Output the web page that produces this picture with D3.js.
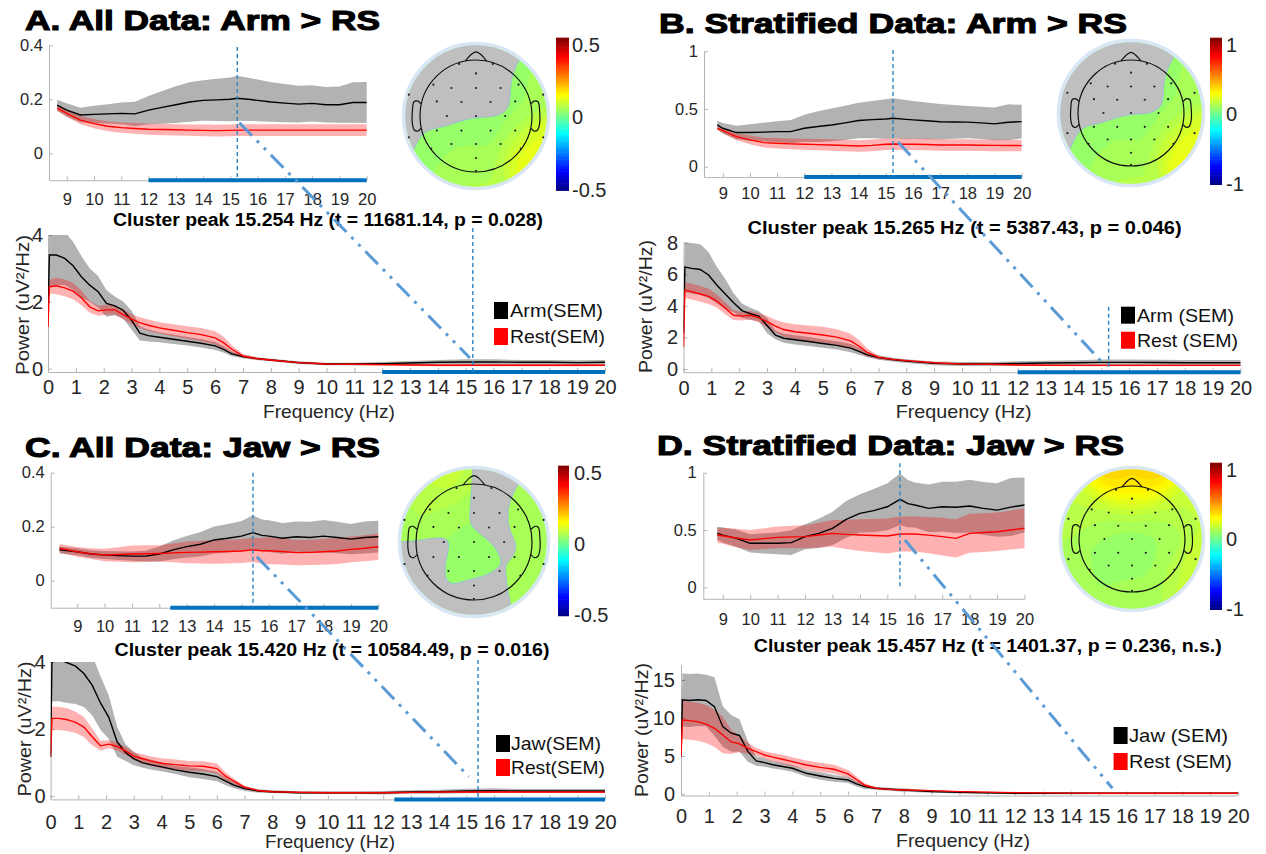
<!DOCTYPE html>
<html>
<head>
<meta charset="utf-8">
<script src="https://cdn.jsdelivr.net/npm/d3@7"></script>
<style>
  body { margin: 0; background: #fff; }
  svg { display: block; }
  text { font-family: "Liberation Sans", Arial, sans-serif; }
</style>
</head>
<body>
<svg id="fig" width="1266" height="854"></svg>
<script>
// ---------------- spectra: full band 0-20 Hz ----------------
const specFreq = [0, 0.05, 0.3, 0.6, 0.9, 1.2, 1.5, 1.8, 2.1, 2.4, 2.7, 3.0, 3.3, 3.6, 4.0, 4.5, 5.0, 5.5, 6.0, 6.3, 6.6, 7.0, 7.5, 8, 9, 10, 11, 12, 13, 14, 15, 16, 17, 18, 19, 20];

const specArmMeanA = [1.6, 3.4, 3.4, 3.3, 3.08, 2.75, 2.5, 2.3, 1.95, 1.88, 1.75, 1.45, 1.06, 0.99, 0.94, 0.88, 0.82, 0.76, 0.68, 0.58, 0.44, 0.36, 0.3, 0.26, 0.18, 0.14, 0.14, 0.15, 0.17, 0.19, 0.2, 0.2, 0.19, 0.19, 0.18, 0.19];
const specArmSemA  = [0.25, 0.95, 0.9, 0.8, 0.72, 0.62, 0.5, 0.47, 0.4, 0.28, 0.26, 0.28, 0.22, 0.18, 0.15, 0.14, 0.13, 0.13, 0.12, 0.1, 0.07, 0.05, 0.04, 0.04, 0.04, 0.04, 0.04, 0.05, 0.06, 0.07, 0.08, 0.08, 0.07, 0.07, 0.07, 0.07];
const specRestMeanA = [1.25, 2.45, 2.48, 2.42, 2.32, 2.12, 1.85, 1.73, 1.76, 1.76, 1.62, 1.48, 1.38, 1.3, 1.22, 1.15, 1.08, 1.02, 0.92, 0.78, 0.58, 0.38, 0.3, 0.26, 0.18, 0.14, 0.13, 0.12, 0.11, 0.1, 0.1, 0.1, 0.1, 0.1, 0.1, 0.1];
const specRestSemA  = [0.08, 0.2, 0.25, 0.25, 0.24, 0.22, 0.18, 0.15, 0.15, 0.14, 0.14, 0.15, 0.16, 0.17, 0.17, 0.18, 0.19, 0.2, 0.2, 0.18, 0.12, 0.06, 0.04, 0.03, 0.03, 0.03, 0.03, 0.03, 0.03, 0.03, 0.03, 0.03, 0.03, 0.03, 0.03, 0.03];

const specArmMeanB = [2.3, 6.45, 6.37, 6.3, 5.95, 5.3, 4.75, 4.2, 3.7, 3.5, 3.35, 2.75, 2.15, 1.95, 1.85, 1.74, 1.62, 1.5, 1.32, 1.12, 0.9, 0.72, 0.6, 0.5, 0.36, 0.32, 0.32, 0.35, 0.38, 0.4, 0.42, 0.42, 0.41, 0.4, 0.4, 0.4];
const specArmSemB  = [0.3, 1.6, 1.6, 1.6, 1.45, 1.15, 0.95, 0.6, 0.45, 0.38, 0.33, 0.48, 0.27, 0.28, 0.29, 0.28, 0.27, 0.26, 0.26, 0.22, 0.16, 0.14, 0.12, 0.12, 0.12, 0.12, 0.13, 0.14, 0.15, 0.16, 0.18, 0.18, 0.17, 0.17, 0.17, 0.17];
const specRestMeanB = [1.4, 5.0, 4.9, 4.75, 4.6, 4.3, 3.85, 3.4, 3.35, 3.4, 3.25, 3.0, 2.72, 2.5, 2.36, 2.26, 2.15, 2.02, 1.78, 1.45, 1.05, 0.74, 0.61, 0.53, 0.4, 0.32, 0.3, 0.26, 0.24, 0.23, 0.23, 0.23, 0.23, 0.23, 0.23, 0.23];
const specRestSemB  = [0.2, 0.5, 0.5, 0.5, 0.48, 0.42, 0.38, 0.3, 0.28, 0.28, 0.3, 0.35, 0.4, 0.45, 0.48, 0.5, 0.52, 0.5, 0.45, 0.38, 0.25, 0.12, 0.08, 0.06, 0.05, 0.05, 0.05, 0.05, 0.05, 0.05, 0.05, 0.05, 0.05, 0.05, 0.05, 0.05];

const specJawMeanC = [1.17, 4.1, 4.08, 3.98, 3.88, 3.66, 3.31, 2.78, 2.35, 1.62, 1.3, 1.12, 1.0, 0.94, 0.87, 0.78, 0.71, 0.66, 0.58, 0.45, 0.33, 0.22, 0.15, 0.13, 0.1, 0.1, 0.1, 0.1, 0.12, 0.13, 0.15, 0.16, 0.15, 0.15, 0.15, 0.15];
const specJawSemC  = [0.2, 1.28, 1.25, 1.2, 1.13, 1.0, 0.9, 0.8, 0.65, 0.45, 0.25, 0.2, 0.15, 0.15, 0.13, 0.12, 0.15, 0.15, 0.14, 0.12, 0.1, 0.07, 0.05, 0.04, 0.04, 0.04, 0.04, 0.05, 0.05, 0.06, 0.07, 0.07, 0.06, 0.06, 0.06, 0.06];
const specRestMeanC = [1.17, 2.32, 2.32, 2.28, 2.2, 2.06, 1.77, 1.5, 1.55, 1.48, 1.35, 1.19, 1.12, 1.05, 0.98, 0.94, 0.9, 0.89, 0.82, 0.6, 0.45, 0.26, 0.16, 0.13, 0.11, 0.1, 0.1, 0.1, 0.11, 0.12, 0.12, 0.12, 0.12, 0.12, 0.12, 0.12];
const specRestSemC  = [0.1, 0.35, 0.35, 0.34, 0.32, 0.3, 0.25, 0.15, 0.12, 0.12, 0.12, 0.12, 0.13, 0.14, 0.15, 0.15, 0.15, 0.15, 0.15, 0.12, 0.08, 0.05, 0.03, 0.03, 0.03, 0.03, 0.03, 0.03, 0.03, 0.03, 0.03, 0.03, 0.03, 0.03, 0.03, 0.03];

const specJawMeanD = [5.0, 12.4, 12.3, 12.4, 12.3, 11.5, 8.86, 8.0, 7.7, 5.6, 4.35, 4.12, 3.85, 3.65, 3.38, 2.72, 2.37, 2.06, 1.84, 1.32, 0.96, 0.75, 0.62, 0.53, 0.31, 0.22, 0.15, 0.09, 0.09, 0.09, 0.09, 0.09, 0.09, 0.09, 0.09, 0.09];
const specJawSemD  = [0.3, 3.5, 3.5, 3.45, 3.4, 3.85, 2.65, 2.4, 2.15, 1.35, 0.63, 0.55, 0.5, 0.45, 0.44, 0.45, 0.5, 0.45, 0.4, 0.35, 0.3, 0.18, 0.2, 0.22, 0.15, 0.15, 0.12, 0.12, 0.12, 0.12, 0.12, 0.12, 0.12, 0.12, 0.12, 0.12];
const specRestMeanD = [4.9, 9.74, 9.65, 9.52, 9.2, 8.64, 7.76, 6.85, 6.6, 6.0, 5.57, 5.13, 4.85, 4.6, 4.25, 3.82, 3.5, 3.25, 2.65, 1.9, 1.15, 0.75, 0.6, 0.53, 0.44, 0.31, 0.24, 0.18, 0.14, 0.11, 0.09, 0.09, 0.09, 0.09, 0.09, 0.09];
const specRestSemD  = [0.3, 2.5, 2.5, 2.5, 2.5, 2.45, 2.4, 1.6, 1.1, 0.7, 0.5, 0.5, 0.55, 0.6, 0.6, 0.6, 0.6, 0.6, 0.5, 0.4, 0.25, 0.12, 0.1, 0.1, 0.08, 0.06, 0.05, 0.05, 0.05, 0.05, 0.05, 0.05, 0.05, 0.05, 0.05, 0.05];

// ---------------- spectra: zoomed band around the cluster ----------------
const zoomFreqA = [8.65, 9, 9.5, 10, 10.5, 11, 11.5, 12, 12.5, 13, 13.5, 14, 14.5, 15, 15.25, 15.75, 16, 16.5, 17, 17.5, 18, 18.5, 19, 19.5, 20];
const zoomFreqB = [8.8, 9, 9.5, 10, 10.5, 11, 11.5, 12, 12.5, 13, 13.5, 14, 14.5, 15, 15.27, 15.75, 16, 16.5, 17, 17.5, 18, 18.5, 19, 19.5, 20];
const zoomFreqC = [8.35, 9, 9.5, 10, 10.5, 11, 11.5, 12, 12.5, 13, 13.5, 14, 14.5, 15, 15.42, 15.75, 16, 16.5, 17, 17.5, 18, 18.5, 19, 19.5, 20];
const zoomFreqD = [8.8, 9, 9.5, 10, 10.5, 11, 11.5, 12, 12.5, 13, 13.5, 14, 14.5, 15, 15.46, 15.75, 16, 16.5, 17, 17.5, 18, 18.5, 19, 19.5, 20];

const zoomArmMeanA = [0.178, 0.16, 0.142, 0.144, 0.146, 0.148, 0.146, 0.16, 0.17, 0.18, 0.19, 0.196, 0.198, 0.2, 0.204, 0.199, 0.196, 0.19, 0.186, 0.182, 0.185, 0.18, 0.18, 0.188, 0.188];
const zoomArmSemA  = [0.02, 0.025, 0.027, 0.032, 0.036, 0.04, 0.045, 0.052, 0.061, 0.068, 0.073, 0.075, 0.078, 0.081, 0.083, 0.079, 0.077, 0.073, 0.071, 0.068, 0.067, 0.066, 0.067, 0.075, 0.076];
const zoomRestMeanA = [0.167, 0.148, 0.123, 0.11, 0.1, 0.095, 0.092, 0.089, 0.088, 0.087, 0.086, 0.085, 0.084, 0.085, 0.086, 0.086, 0.086, 0.086, 0.086, 0.086, 0.086, 0.086, 0.086, 0.086, 0.086];
const zoomRestSemA  = [0.01, 0.012, 0.015, 0.017, 0.018, 0.019, 0.02, 0.02, 0.021, 0.021, 0.021, 0.022, 0.022, 0.022, 0.022, 0.022, 0.022, 0.022, 0.022, 0.022, 0.022, 0.022, 0.022, 0.022, 0.022];

const zoomArmMeanB = [0.362, 0.333, 0.296, 0.296, 0.3, 0.304, 0.304, 0.333, 0.348, 0.362, 0.38, 0.4, 0.408, 0.414, 0.42, 0.41, 0.406, 0.398, 0.39, 0.388, 0.386, 0.38, 0.371, 0.385, 0.391];
const zoomArmSemB  = [0.037, 0.045, 0.058, 0.072, 0.082, 0.09, 0.1, 0.117, 0.133, 0.142, 0.149, 0.154, 0.161, 0.171, 0.174, 0.169, 0.164, 0.159, 0.154, 0.146, 0.139, 0.14, 0.142, 0.156, 0.145];
const zoomRestMeanB = [0.333, 0.313, 0.26, 0.232, 0.209, 0.203, 0.198, 0.194, 0.191, 0.188, 0.184, 0.18, 0.185, 0.195, 0.197, 0.195, 0.194, 0.192, 0.188, 0.188, 0.188, 0.186, 0.185, 0.184, 0.183];
const zoomRestSemB  = [0.015, 0.02, 0.03, 0.038, 0.042, 0.045, 0.047, 0.048, 0.049, 0.05, 0.05, 0.05, 0.05, 0.05, 0.05, 0.05, 0.05, 0.05, 0.05, 0.05, 0.05, 0.05, 0.05, 0.05, 0.05];

const zoomJawMeanC = [0.114, 0.107, 0.099, 0.095, 0.093, 0.091, 0.091, 0.099, 0.114, 0.126, 0.135, 0.151, 0.157, 0.165, 0.178, 0.168, 0.165, 0.157, 0.163, 0.16, 0.165, 0.16, 0.154, 0.16, 0.163];
const zoomJawSemC  = [0.013, 0.013, 0.014, 0.015, 0.016, 0.017, 0.02, 0.028, 0.035, 0.04, 0.045, 0.05, 0.053, 0.056, 0.064, 0.059, 0.059, 0.057, 0.056, 0.058, 0.06, 0.058, 0.056, 0.059, 0.059];
const zoomRestMeanC = [0.12, 0.107, 0.1, 0.095, 0.097, 0.099, 0.1, 0.101, 0.103, 0.105, 0.106, 0.107, 0.108, 0.11, 0.114, 0.111, 0.111, 0.108, 0.104, 0.105, 0.107, 0.11, 0.116, 0.12, 0.126];
const zoomRestSemC  = [0.016, 0.018, 0.02, 0.023, 0.027, 0.031, 0.031, 0.03, 0.035, 0.04, 0.042, 0.044, 0.044, 0.044, 0.045, 0.047, 0.05, 0.048, 0.047, 0.047, 0.048, 0.048, 0.048, 0.048, 0.049];

const zoomJawMeanD = [0.471, 0.456, 0.427, 0.384, 0.384, 0.384, 0.39, 0.442, 0.471, 0.515, 0.593, 0.645, 0.669, 0.703, 0.767, 0.73, 0.718, 0.689, 0.703, 0.698, 0.709, 0.689, 0.674, 0.7, 0.718];
const zoomJawSemD  = [0.058, 0.065, 0.075, 0.08, 0.088, 0.095, 0.108, 0.109, 0.128, 0.145, 0.16, 0.167, 0.188, 0.204, 0.226, 0.206, 0.197, 0.208, 0.218, 0.223, 0.23, 0.23, 0.233, 0.253, 0.24];
const zoomRestMeanD = [0.456, 0.45, 0.43, 0.413, 0.425, 0.436, 0.44, 0.442, 0.456, 0.471, 0.462, 0.456, 0.452, 0.448, 0.465, 0.465, 0.465, 0.455, 0.442, 0.427, 0.471, 0.478, 0.485, 0.5, 0.515];
const zoomRestSemD  = [0.066, 0.07, 0.08, 0.087, 0.09, 0.095, 0.098, 0.1, 0.108, 0.116, 0.127, 0.138, 0.145, 0.152, 0.152, 0.152, 0.152, 0.158, 0.164, 0.167, 0.17, 0.169, 0.168, 0.171, 0.174];

// ---------------- cluster statistics ----------------
const peakFreq     = [15.254, 15.265, 15.420, 15.457];
const clusterStart = [12, 12, 12.4, null];
const clusterText = [
  "Cluster peak 15.254 Hz (t = 11681.14, p = 0.028)",
  "Cluster peak 15.265 Hz (t = 5387.43, p = 0.046)",
  "Cluster peak 15.420 Hz (t = 10584.49, p = 0.016)",
  "Cluster peak 15.457 Hz (t = 1401.37, p = 0.236, n.s.)"
];
const panelTitles = ["A. All Data: Arm > RS", "B. Stratified Data: Arm > RS", "C. All Data: Jaw > RS", "D. Stratified Data: Jaw > RS"];
const legendTexts = [["Arm(SEM)", "Rest(SEM)"], ["Arm (SEM)", "Rest (SEM)"], ["Jaw(SEM)", "Rest(SEM)"], ["Jaw (SEM)", "Rest (SEM)"]];

// ---------------- tick labels ----------------
const zoomXTicks = [9, 10, 11, 12, 13, 14, 15, 16, 17, 18, 19, 20];
const specXTicks = d3.range(0, 21);
const zoomYTicks = [[0, 0.2, 0.4], [0, 0.5, 1], [0, 0.2, 0.4], [0, 0.5, 1]];
const specYTicks = [[0, 2, 4], [0, 2, 4, 6, 8], [0, 2, 4], [0, 5, 10, 15]];
const cbarLimits = [0.5, 1, 0.5, 1];

// ---------------- scalp maps: 10-20 montage (unit head radius) ----------------
const montage = [
  ["Fp1", -0.3, 0.93], ["Fp2", 0.3, 0.93], ["AFz", 0, 0.76],
  ["F7", -0.76, 0.56], ["F3", -0.44, 0.5], ["Fz", 0, 0.5], ["F4", 0.44, 0.5], ["F8", 0.76, 0.56],
  ["FT9", -1.2, 0.38], ["FT10", 1.2, 0.38],
  ["FC5", -0.7, 0.26], ["FC1", -0.26, 0.25], ["FC2", 0.26, 0.25], ["FC6", 0.7, 0.26],
  ["C3", -0.52, 0], ["Cz", 0, 0], ["C4", 0.52, 0],
  ["CP5", -0.7, -0.26], ["CP1", -0.26, -0.26], ["CP2", 0.26, -0.26], ["CP6", 0.7, -0.26],
  ["TP9", -1.2, -0.38], ["TP10", 1.2, -0.38],
  ["P7", -0.8, -0.58], ["P3", -0.44, -0.5], ["Pz", 0, -0.5], ["P4", 0.44, -0.5], ["P8", 0.8, -0.58],
  ["POz", 0, -0.75], ["Oz", 0, -0.98]
];
//             Fp1  Fp2  AFz  F7   F3   Fz   F4   F8   FT9  FT10 FC5  FC1  FC2  FC6  C3   Cz   C4   CP5  CP1  CP2  CP6  TP9  TP10 P7   P3   Pz   P4   P8   POz  Oz
const topoA = [0.02,0.02,0.02,0.02,0.02,0.02,0.02,0.03,0.02,0.04,0.02,0.02,0.02,0.03,0.02,0.02,0.03,0.03,0.03,0.0, 0.04,0.03,0.1, 0.03,0.03,0.03,0.04,0.13,0.04,0.05];
const maskA = [0,   0,   0,   0,   0,   0,   0,   1,   0,   1,   0,   0,   0,   0.85,0,  0.45,0.25,0.5, 1,   1,   1,   0.1, 1,   1,   1,   1,   1,   1,   1,   1];
const topoB = [0.05,0.05,0.05,0.05,0.05,0.05,0.05,0.06,0.05,0.08,0.05,0.05,0.05,0.06,0.05,0.05,0.06,0.06,0.06,0.01,0.08,0.06,0.2, 0.06,0.06,0.06,0.08,0.26,0.08,0.1];
const maskB = [0,   0,   0,   0,   0,   0,   0,   1,   0,   1,   0,   0,   0,   0.85,0,  0.45,0.25,0.5, 1,   1,   1,   0.1, 1,   1,   1,   1,   1,   1,   1,   1];
const topoC = [0.08,0.03,0.04,0.06,0.04,0.03,0.03,0.04,0.04,0.04,0.04,0.03,0.03,0.04,0.03,0.02,0.03,0.03,0.02,0.02,0.03,0.03,0.04,0.03,0.02,0.02,0.03,0.05,0.03,0.04];
const maskC = [1,   0,   0.35,1,   1,   0.55,0,   1,   1,   1,   1,   0.35,0,   1,   0,   1,   0,   0,   1,   1,   0.5, 0,   1,   0,   0.85,1,   0,   1,   0,   0];
const topoD = [0.36,0.36,0.24,0.14,0.1, 0.12,0.1, 0.14,0.12,0.13,0.08,0.06,0.06,0.08,0.06,0.03,0.06,0.06,0.03,0.04,0.07,0.08,0.17,0.07,0.05,0.05,0.06,0.14,0.06,0.09];

// ---------------- layout ----------------
const layout = [
  { title: { x: 25, y: 30, len: 355 },
    zoom: { f: [8.35, 20], x: [49, 366.7], v: [-0.1, 0.4], y: [180.3, 45.3], xPad: 12.7, yPad: 6, vline: [47, 180.3] },
    spec: { x: [48, 605], v: [-0.1, 4], y: [372, 235], xPad: 7.4, yPad: 5, vline: [228, 372] },
    cluster: { x: 328, y: 226, len: 430 },
    legend: { x: 494, y: [302, 328], tx: 510, lens: [93, 95] },
    xlab: { x: 329, y: 418.3, len: 132 }, ylab: { x: 28.6, y: 305, len: 140 },
    link: { from: [15.33, 0.113], to: [15.15, 0.32] },
    topo: { cx: 476, cy: 116, discR: 71, headR: 56, cbx: 556, cby: [40, 192.7], cbw: 13, lx: 572 } },
  { title: { x: 659, y: 33, len: 468 },
    zoom: { f: [8.31, 20], x: [704, 1021.7], v: [-0.09, 1], y: [177.1, 51.3], xPad: 10.5, yPad: 6, vline: [50, 177] },
    spec: { x: [683.5, 1240.5], v: [-0.2, 8], y: [372.2, 242.6], xPad: 8.4, yPad: 5.5, vline: [306.7, 372] },
    cluster: { x: 964.6, y: 234.3, len: 434 },
    legend: { x: 1121, y: [306.7, 331.7], tx: 1137, lens: [97, 101] },
    xlab: { x: 963.7, y: 418.3, len: 136 }, ylab: { x: 651.6, y: 306.5, len: 133 },
    link: { from: [15.45, 0.214], to: [15.12, 0.25] },
    topo: { cx: 1131, cy: 113, discR: 71, headR: 53, cbx: 1210, cby: [40, 186.7], cbw: 12, lx: 1226 } },
  { title: { x: 25, y: 457.3, len: 355 },
    zoom: { f: [8.03, 20], x: [50.7, 378.3], v: [-0.1, 0.4], y: [607.7, 472.7], xPad: 13, yPad: 6, vline: [472.7, 607.7] },
    spec: { x: [50.6, 605], v: [-0.1, 4], y: [799.4, 662.1], xPad: 15.6, yPad: 5, vline: [660, 799.4] },
    cluster: { x: 332, y: 656, len: 435 },
    legend: { x: 496, y: [735, 759], tx: 511, lens: [90, 94] },
    xlab: { x: 330, y: 848.3, len: 130 }, ylab: { x: 30.6, y: 729, len: 135 },
    link: { from: [15.56, 0.089], to: [15.09, 0.576] },
    topo: { cx: 474, cy: 542, discR: 73, headR: 58, cbx: 558, cby: [468, 618], cbw: 11, lx: 574 } },
  { title: { x: 657, y: 455, len: 467 },
    zoom: { f: [8.29, 20], x: [703.3, 1024.5], v: [-0.1, 1], y: [598.8, 472.7], xPad: 14.2, yPad: 6.5, vline: [463.3, 588.3] },
    spec: { x: [681, 1238], v: [-0.2, 17], y: [795.5, 664.8], xPad: 12.9, yPad: 6, vline: null },
    cluster: { x: 987.8, y: 651.5, len: 468 },
    legend: { x: 1113.6, y: [727, 753], tx: 1129, lens: [99, 103] },
    xlab: { x: 963, y: 846.6, len: 134 }, ylab: { x: 647.6, y: 730, len: 134 },
    link: { from: [15.64, 0.413], to: [15.49, 0.75] },
    topo: { cx: 1132, cy: 539, discR: 70, headR: 53, cbx: 1210, cby: [465, 611.7], cbw: 12, lx: 1226 } }
];

const panels = [
  { zoomF: zoomFreqA, zoomTask: [zoomArmMeanA, zoomArmSemA], zoomRest: [zoomRestMeanA, zoomRestSemA],
    specTask: [specArmMeanA, specArmSemA], specRest: [specRestMeanA, specRestSemA], topo: topoA, mask: maskA },
  { zoomF: zoomFreqB, zoomTask: [zoomArmMeanB, zoomArmSemB], zoomRest: [zoomRestMeanB, zoomRestSemB],
    specTask: [specArmMeanB, specArmSemB], specRest: [specRestMeanB, specRestSemB], topo: topoB, mask: maskB },
  { zoomF: zoomFreqC, zoomTask: [zoomJawMeanC, zoomJawSemC], zoomRest: [zoomRestMeanC, zoomRestSemC],
    specTask: [specJawMeanC, specJawSemC], specRest: [specRestMeanC, specRestSemC], topo: topoC, mask: maskC },
  { zoomF: zoomFreqD, zoomTask: [zoomJawMeanD, zoomJawSemD], zoomRest: [zoomRestMeanD, zoomRestSemD],
    specTask: [specJawMeanD, specJawSemD], specRest: [specRestMeanD, specRestSemD], topo: topoD, mask: null }
];

// ---------------- helpers ----------------
const svg = d3.select("#fig");
svg.append("rect").attr("width", 1266).attr("height", 854).attr("fill", "#fff");

const AXIS_COLOR = "#b4b4b4";
const LABEL_COLOR = "#262626";
const BLUE = "#0072bd";
const LINK_BLUE = "#5b9bd5";

// MATLAB-style jet colormap
function jet(t) {
  t = Math.max(0, Math.min(1, t));
  const c = v => Math.round(255 * Math.max(0, Math.min(1, v)));
  return `rgb(${c(1.5 - Math.abs(4 * t - 3))},${c(1.5 - Math.abs(4 * t - 2))},${c(1.5 - Math.abs(4 * t - 1))})`;
}

let clipCount = 0;
function styleAxis(g, fontSize) {
  g.select(".domain").attr("stroke", AXIS_COLOR).attr("stroke-width", 1);
  g.selectAll(".tick line").attr("stroke", AXIS_COLOR);
  g.selectAll(".tick text").attr("fill", LABEL_COLOR).attr("font-size", fontSize)
    .attr("font-family", '"Liberation Sans", Arial, sans-serif');
}

// one spectrum plot: SEM bands, means, axes, cluster bar and peak marker
function drawSpectrum(freq, task, rest, box, xTicks, yTicks, fontSize, peak, cStart) {
  const x = d3.scaleLinear().domain(box.f).range(box.x);
  const y = d3.scaleLinear().domain(box.v).range(box.y);
  const g = svg.append("g");

  const xa = g.append("g").attr("transform", `translate(0,${box.y[0]})`)
    .call(d3.axisBottom(x).tickValues(xTicks).tickSizeInner(-4).tickSizeOuter(0).tickPadding(box.xPad).tickFormat(d => d));
  styleAxis(xa, fontSize);
  const ya = g.append("g").attr("transform", `translate(${box.x[0]},0)`)
    .call(d3.axisLeft(y).tickValues(yTicks).tickSizeInner(-4).tickSizeOuter(0).tickPadding(box.yPad).tickFormat(d => d));
  styleAxis(ya, fontSize);

  const id = "plotclip" + (clipCount++);
  svg.append("clipPath").attr("id", id).append("rect")
    .attr("x", box.x[0]).attr("y", box.y[1]).attr("width", box.x[1] - box.x[0] + 1).attr("height", box.y[0] - box.y[1]);
  const body = g.append("g").attr("clip-path", `url(#${id})`);

  const rows = s => freq.map((f, i) => ({ f, m: s[0][i], s: s[1][i] }));
  const band = d3.area().x(d => x(d.f)).y0(d => y(d.m - d.s)).y1(d => y(d.m + d.s));
  const line = d3.line().x(d => x(d.f)).y(d => y(d.m));

  body.append("path").datum(rows(task)).attr("d", band).attr("fill", "#000").attr("fill-opacity", 0.3);
  body.append("path").datum(rows(rest)).attr("d", band).attr("fill", "#ff0000").attr("fill-opacity", 0.3);
  body.append("path").datum(rows(task)).attr("d", line).attr("fill", "none").attr("stroke", "#000").attr("stroke-width", 1.4);
  body.append("path").datum(rows(rest)).attr("d", line).attr("fill", "none").attr("stroke", "#ff0000").attr("stroke-width", 1.4);

  if (cStart !== null) {
    g.append("line").attr("x1", x(cStart)).attr("x2", x(20)).attr("y1", box.y[0]).attr("y2", box.y[0])
      .attr("stroke", BLUE).attr("stroke-width", 4);
  }
  if (box.vline) {
    g.append("line").attr("x1", x(peak)).attr("x2", x(peak)).attr("y1", box.vline[0]).attr("y2", box.vline[1])
      .attr("stroke", "#2a86c8").attr("stroke-width", 1.4).attr("stroke-dasharray", "4,3");
  }
  return { x, y };
}

// scalp map: smoothed electrode values, significance mask, head outline, colour bar
function drawTopo(vals, mask, t, lim, key) {
  const N = 110, R = t.discR / t.headR, sig = 0.27;
  const grid = new Float64Array(N * N);
  const mgrid = mask ? new Float64Array(N * N) : null;
  for (let j = 0; j < N; j++) {
    for (let i = 0; i < N; i++) {
      const px = -R + (i + 0.5) / N * 2 * R, py = R - (j + 0.5) / N * 2 * R;
      let sw = 0, s = 0, sm = 0;
      montage.forEach((e, k) => {
        const d2 = (px - e[1]) ** 2 + (py - e[2]) ** 2;
        const w = Math.exp(-d2 / (2 * sig * sig));
        sw += w; s += w * vals[k]; if (mask) sm += w * mask[k];
      });
      grid[j * N + i] = s / sw;
      if (mask) mgrid[j * N + i] = 1 - sm / sw;
    }
  }
  const proj = d3.geoTransform({
    point(px, py) { this.stream.point(t.cx + (px / N * 2 * R - R) * t.headR, t.cy + (py / N * 2 * R - R) * t.headR); }
  });
  const path = d3.geoPath(proj);
  const clipId = "topoclip" + key;
  svg.append("clipPath").attr("id", clipId).append("circle").attr("cx", t.cx).attr("cy", t.cy).attr("r", t.discR);

  const g = svg.append("g");
  const body = g.append("g").attr("clip-path", `url(#${clipId})`);
  const step = lim / 32;
  const levels = d3.range(-lim, lim, step);
  const color = v => jet((v + step / 2 + lim) / (2 * lim));
  const bands = d3.contours().size([N, N]).thresholds(levels)(grid);
  body.selectAll("path.lvl").data(bands).join("path").attr("class", "lvl")
    .attr("d", path).attr("fill", d => color(d.value)).attr("stroke", d => color(d.value)).attr("stroke-width", 0.6);
  if (mask) {
    const gray = d3.contours().size([N, N]).thresholds([0.5])(mgrid)[0];
    body.append("path").datum(gray).attr("d", path).attr("fill", "#bfbfbf")
      .attr("stroke", "#8fbde3").attr("stroke-width", 0.8);
  }
  g.append("circle").attr("cx", t.cx).attr("cy", t.cy).attr("r", t.discR + 1.5)
    .attr("fill", "none").attr("stroke", "#d9e7f5").attr("stroke-width", 3.5);

  // head, nose and ears
  const hx = v => t.cx + v * t.headR, hy = v => t.cy - v * t.headR;
  const outline = d3.line().x(d => hx(d[0])).y(d => hy(d[1])).curve(d3.curveCatmullRom);
  g.append("circle").attr("cx", t.cx).attr("cy", t.cy).attr("r", t.headR)
    .attr("fill", "none").attr("stroke", "#111").attr("stroke-width", 1.2);
  g.append("path").attr("d", outline([[-0.19, 0.982], [-0.07, 1.11], [0, 1.145], [0.07, 1.11], [0.19, 0.982]]))
    .attr("fill", "none").attr("stroke", "#111").attr("stroke-width", 1.2);
  const ear = [[0.985, 0.22], [1.05, 0.27], [1.11, 0.25], [1.135, 0.1], [1.135, -0.14], [1.1, -0.25], [1.04, -0.27], [0.985, -0.22]];
  [1, -1].forEach(sgn => {
    g.append("path").attr("d", outline(ear.map(p => [sgn * p[0], p[1]])))
      .attr("fill", "none").attr("stroke", "#111").attr("stroke-width", 1.2);
  });
  g.selectAll("circle.el").data(montage).join("circle").attr("class", "el")
    .attr("cx", d => hx(d[1])).attr("cy", d => hy(d[2])).attr("r", 1.1).attr("fill", "#222");

  // colour bar
  const nSteps = 64;
  const cb = d3.scaleBand().domain(d3.range(nSteps)).range([t.cby[1], t.cby[0]]);
  svg.append("g").selectAll("rect").data(d3.range(nSteps)).join("rect")
    .attr("x", t.cbx).attr("width", t.cbw)
    .attr("y", i => cb(i) - cb.bandwidth()).attr("height", cb.bandwidth() + 0.6)
    .attr("fill", i => jet((i + 0.5) / nSteps));
  const lab = d3.scaleLinear().domain([-lim, lim]).range([t.cby[1] - 3, t.cby[0] + 5]);
  svg.append("g").selectAll("text").data([lim, 0, -lim]).join("text")
    .attr("x", t.lx).attr("y", d => lab(d) + 7).attr("font-size", 20).attr("fill", LABEL_COLOR)
    .text(d => d);
}

// ---------------- draw the four panels ----------------
panels.forEach((p, k) => {
  const L = layout[k];

  svg.append("text").attr("x", L.title.x).attr("y", L.title.y)
    .attr("font-family", '"Liberation Sans", Arial, sans-serif').attr("font-weight", "bold").attr("font-size", 28)
    .attr("stroke", "#000").attr("stroke-width", 1.1)
    .attr("textLength", L.title.len).attr("lengthAdjust", "spacingAndGlyphs").text(panelTitles[k]);

  const zs = drawSpectrum(p.zoomF, p.zoomTask, p.zoomRest, L.zoom, zoomXTicks, zoomYTicks[k], 16.5, peakFreq[k], clusterStart[k]);
  const spBox = Object.assign({ f: [0, 20] }, L.spec);
  const ss = drawSpectrum(specFreq, p.specTask, p.specRest, spBox, specXTicks, specYTicks[k], 20, peakFreq[k], clusterStart[k]);

  svg.append("text").attr("x", L.cluster.x).attr("y", L.cluster.y).attr("text-anchor", "middle")
    .attr("font-weight", "bold").attr("font-size", 18).attr("fill", "#000")
    .attr("textLength", L.cluster.len).attr("lengthAdjust", "spacingAndGlyphs").text(clusterText[k]);

  svg.append("text").attr("x", L.xlab.x).attr("y", L.xlab.y).attr("text-anchor", "middle")
    .attr("font-size", 19).attr("fill", LABEL_COLOR)
    .attr("textLength", L.xlab.len).attr("lengthAdjust", "spacingAndGlyphs").text("Frequency (Hz)");
  svg.append("text").attr("transform", `translate(${L.ylab.x},${L.ylab.y}) rotate(-90)`).attr("text-anchor", "middle")
    .attr("font-size", 19).attr("fill", LABEL_COLOR)
    .attr("textLength", L.ylab.len).attr("lengthAdjust", "spacingAndGlyphs").text("Power (uV²/Hz)");

  // legend
  ["#000", "#ff0000"].forEach((c, i) => {
    svg.append("rect").attr("x", L.legend.x).attr("y", L.legend.y[i]).attr("width", 14).attr("height", 17).attr("fill", c);
    svg.append("text").attr("x", L.legend.tx).attr("y", L.legend.y[i] + 15)
      .attr("font-size", 19).attr("fill", "#111")
      .attr("textLength", L.legend.lens[i]).attr("lengthAdjust", "spacingAndGlyphs").text(legendTexts[k][i]);
  });

  drawTopo(p.topo, p.mask, L.topo, cbarLimits[k], k);

  // link from the zoomed view down to the full spectrum
  svg.append("line")
    .attr("x1", zs.x(L.link.from[0])).attr("y1", zs.y(L.link.from[1]))
    .attr("x2", ss.x(L.link.to[0])).attr("y2", ss.y(L.link.to[1]))
    .attr("stroke", LINK_BLUE).attr("stroke-width", 3).attr("stroke-dasharray", "18,7,3,7,3,7");
});
</script>
</body>
</html>
